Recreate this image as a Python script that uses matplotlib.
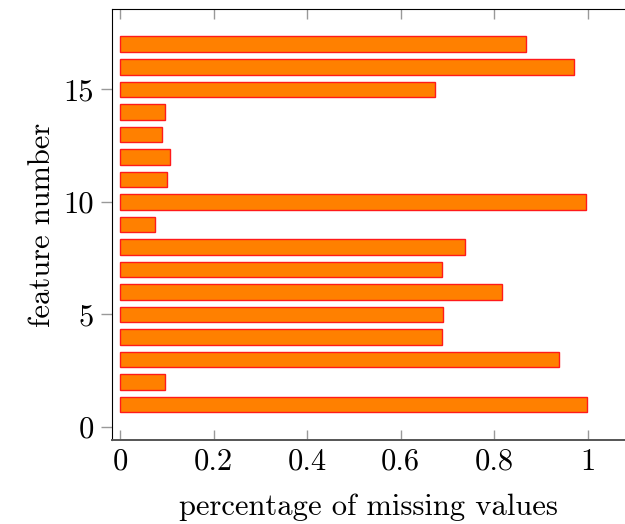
import matplotlib
matplotlib.use("Agg")
import matplotlib.pyplot as plt

features = list(range(1, 18))
missing = [0.997, 0.096, 0.938, 0.689, 0.690, 0.816, 0.689, 0.737, 0.075,
           0.995, 0.100, 0.107, 0.089, 0.096, 0.672, 0.969, 0.868]
xticks = [0, 0.2, 0.4, 0.6, 0.8, 1]
xticklabels = ["0", "0.2", "0.4", "0.6", "0.8", "1"]
yticks = [0, 5, 10, 15]

plt.rcParams["font.family"] = ["cmr10", "DejaVu Serif"]
plt.rcParams["axes.formatter.use_mathtext"] = True

fig = plt.figure(figsize=(6.25, 5.24), dpi=100)
ax = fig.add_axes([0.1787, 0.1603, 1.0 - 0.1787, 0.9819 - 0.1603])

ax.barh(features, missing, height=0.7, color="#FF8000", edgecolor="#FF1A1A",
        linewidth=1.0)

ax.set_xlim(-0.0177, 1.079)
ax.set_ylim(-0.58, 18.55)

ax.set_xticks(xticks)
ax.set_xticklabels(xticklabels)
ax.set_yticks(yticks)
ax.set_yticklabels([str(v) for v in yticks])

ax.tick_params(axis="x", direction="in", length=7.5, width=1.0, color="#999999",
               top=True, bottom=True, labelsize=22, pad=6)
ax.tick_params(axis="y", direction="out", length=8, width=1.0, color="#999999",
               left=True, right=False, labelsize=22, pad=5)

ax.spines["right"].set_visible(False)
ax.spines["top"].set_color("black")
ax.spines["left"].set_color("black")
ax.spines["bottom"].set_color("#555555")
ax.spines["bottom"].set_linewidth(1.4)

ax.set_xlabel("percentage of missing values", fontsize=22, labelpad=13)
ax.set_ylabel("feature number", fontsize=22, labelpad=5)

fig.savefig("out.png", dpi=100)
